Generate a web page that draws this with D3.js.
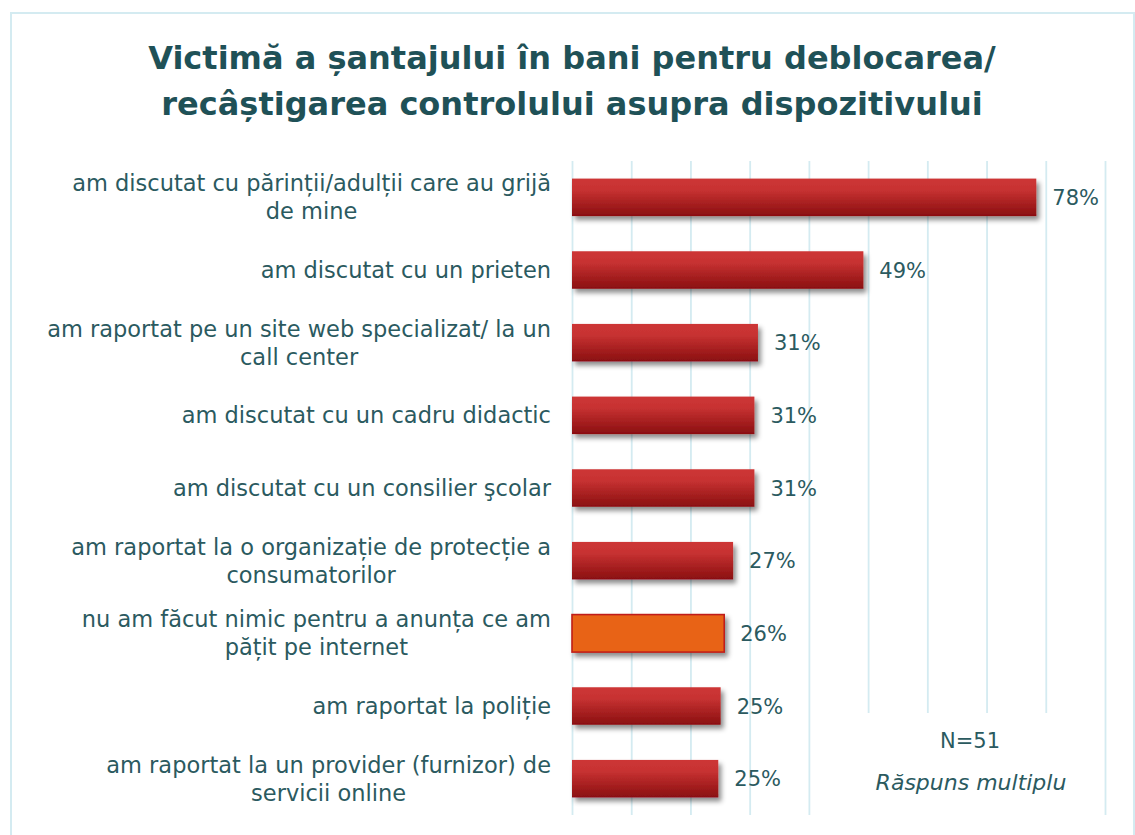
<!DOCTYPE html>
<html>
<head>
<meta charset="utf-8">
<script src="https://cdn.jsdelivr.net/npm/d3@7"></script>
<style>
  body { margin: 0; background: #fff; }
  text { font-family: "DejaVu Sans", sans-serif; fill: #2b5a5f; }
</style>
</head>
<body>
<svg id="chart" width="1135" height="835"></svg>
<script>
// data
var titleLines = ["Victimă a șantajului în bani pentru deblocarea/",
                  "recâștigarea controlului asupra dispozitivului"];
var categories = [
  "am discutat cu părinții/adulții care au grijă\nde mine",
  "am discutat cu un prieten",
  "am raportat pe un site web specializat/ la un\ncall center",
  "am discutat cu un cadru didactic",
  "am discutat cu un consilier şcolar",
  "am raportat la o organizație de protecție a\nconsumatorilor",
  "nu am făcut nimic pentru a anunța ce am\npățit pe internet",
  "am raportat la poliție",
  "am raportat la un provider (furnizor) de\nservicii online"
];
var values = [78.4, 49.2, 31.4, 30.8, 30.8, 27.2, 25.7, 25.1, 24.7];
var highlighted = [6]; // the orange bar
var gridTicks = [0, 10, 20, 30, 40, 50, 60, 70, 80, 90];
var notes = ["N=51", "Răspuns multiplu"];

var svg = d3.select("#chart");

var text_color = "#2b5a5f";
var grid_color = "#d4ebf1";

var x = d3.scaleLinear().domain([0, 90]).range([572, 1105]);
var y = d3.scaleBand().domain(categories).range([161, 815])
    .paddingInner(0.484).paddingOuter(0.242);

var defs = svg.append("defs");
var grad = defs.append("linearGradient").attr("id", "redGrad")
    .attr("x1", 0).attr("y1", 0).attr("x2", 0).attr("y2", 1);
grad.append("stop").attr("offset", "0%").attr("stop-color", "#cd3636");
grad.append("stop").attr("offset", "30%").attr("stop-color", "#c73232");
grad.append("stop").attr("offset", "100%").attr("stop-color", "#8a0f10");

var shadow = defs.append("filter").attr("id", "shadow")
    .attr("x", "-10%").attr("y", "-30%").attr("width", "130%").attr("height", "180%");
shadow.append("feDropShadow").attr("dx", 3).attr("dy", 4).attr("stdDeviation", 2.5)
    .attr("flood-color", "#000").attr("flood-opacity", 0.45);

// outer frame
svg.append("rect")
    .attr("x", 11).attr("y", 13).attr("width", 1123).attr("height", 850)
    .attr("fill", "none").attr("stroke", grid_color).attr("stroke-width", 2);

// title
svg.append("text")
    .attr("x", 572).attr("y", 69)
    .attr("text-anchor", "middle")
    .style("font-size", "32px").style("font-weight", "bold")
    .style("fill", "#1f5157")
  .selectAll("tspan").data(titleLines).enter().append("tspan")
    .attr("x", 572).attr("dy", function(d, i) { return i ? 46 : 0; })
    .text(function(d) { return d; });

// gridlines
var grid = svg.append("g").attr("transform", "translate(0,161)")
    .call(d3.axisTop(x).tickValues(gridTicks).tickSize(-(815 - 161)).tickFormat(""));
grid.select(".domain").remove();
grid.selectAll("line").attr("stroke", grid_color).attr("stroke-width", 1.8);

// bars
svg.append("g").selectAll("rect").data(values).enter().append("rect")
    .attr("x", x(0))
    .attr("y", function(d, i) { return y(categories[i]); })
    .attr("width", function(d) { return x(d) - x(0); })
    .attr("height", y.bandwidth())
    .attr("fill", function(d, i) { return highlighted.indexOf(i) >= 0 ? "#e86414" : "url(#redGrad)"; })
    .attr("stroke", function(d, i) { return highlighted.indexOf(i) >= 0 ? "#c01e1a" : "none"; })
    .attr("stroke-width", 1.6)
    .attr("filter", "url(#shadow)");

// value labels
svg.append("g").selectAll("text").data(values).enter().append("text")
    .attr("x", function(d) { return x(d) + 16; })
    .attr("y", function(d, i) { return y(categories[i]) + y.bandwidth() / 2; })
    .attr("dy", "0.36em")
    .style("font-size", "21px")
    .text(function(d) { return d3.format(".0f")(d) + "%"; });

// category labels, centred block whose right edge sits at 551
var labelRight = 551, lineH = 28;
var labels = svg.append("g").selectAll("text").data(categories).enter().append("text")
    .attr("text-anchor", "middle")
    .style("font-size", "22.5px");
labels.each(function(d) {
  var t = d3.select(this);
  var lines = d.split("\n");
  var cy = y(d) + y.bandwidth() / 2;
  lines.forEach(function(line, i) {
    t.append("tspan")
      .attr("y", cy + (i - (lines.length - 1) / 2) * lineH)
      .attr("dy", "0.36em")
      .text(line);
  });
  var w = d3.max(t.selectAll("tspan").nodes(), function(n) { return n.getComputedTextLength(); });
  t.selectAll("tspan").attr("x", labelRight - w / 2);
});

// note box covering the gridlines
svg.append("rect")
    .attr("x", 858).attr("y", 713).attr("width", 240).attr("height", 110)
    .attr("fill", "#fff");
svg.append("text")
    .attr("x", 970).attr("y", 748).attr("text-anchor", "middle")
    .style("font-size", "21px")
    .text(notes[0]);
svg.append("text")
    .attr("x", 971).attr("y", 790).attr("text-anchor", "middle")
    .style("font-size", "22px").style("font-style", "italic")
    .text(notes[1]);
</script>
</body>
</html>
